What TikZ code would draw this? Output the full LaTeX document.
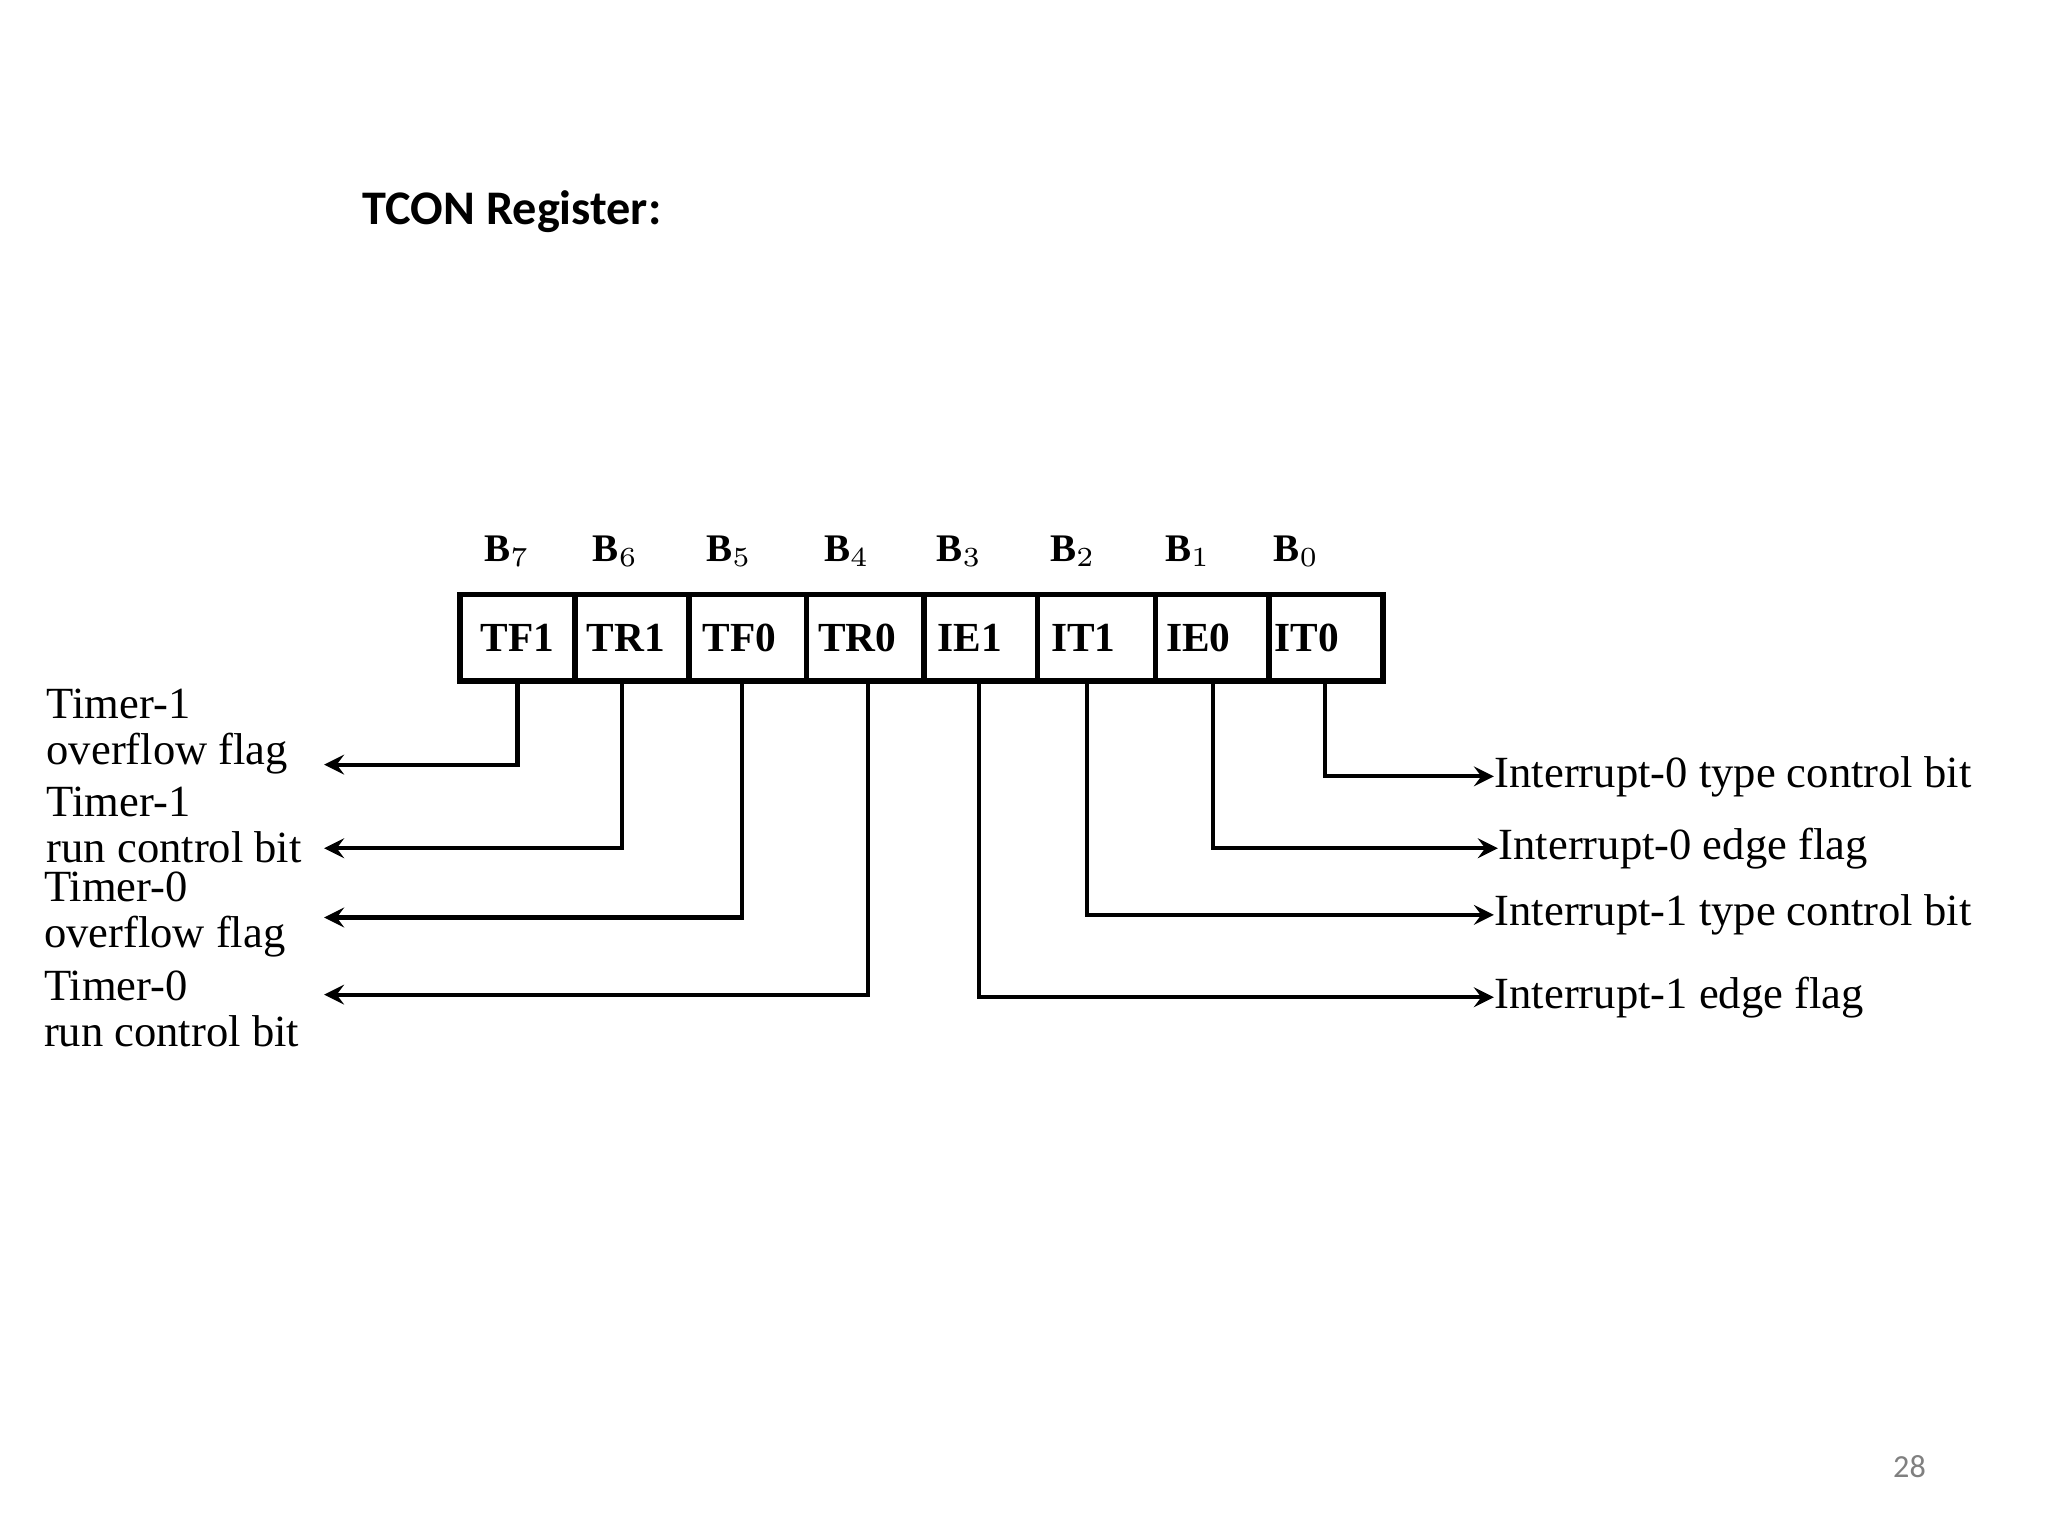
\documentclass[tikz,border=0pt]{standalone}
\usepackage{fontspec}
\setmainfont{Liberation Serif}
\newfontfamily\carl{Carlito}
\begin{document}
\begin{tikzpicture}[x=0.01cm,y=-0.01cm,
  lbl/.style={font=\fontsize{9.7}{10}\selectfont,align=left,inner sep=0pt},
  wire/.style={line width=0.9pt},
  arr/.style={wire,->,>=stealth}]
\useasboundingbox (0,0) rectangle (1567,1175);
\node[anchor=west,font=\carl\bfseries\fontsize{10.5}{12}\selectfont,inner sep=0pt] (title) at (277,162) {TCON Register:};
\node[font=\carl\fontsize{7}{8}\selectfont,text=gray,inner sep=0pt] (pg) at (1461,1122) {28};
\draw[line width=1.2pt] (352,455) rectangle (1058,521);
\foreach \x in {440,527,617,707,794,884,971}{\draw[line width=1.2pt] (\x,455)--(\x,521);}
\foreach \n/\t/\x/\b in {c7/TF1/396/7,c6/TR1/479/6,c5/TF0/566/5,c4/TR0/656/4,c3/IE1/742/3,c2/IT1/829/2,c1/IE0/917/1,c0/IT0/1000/0}{
  \node[font=\bfseries\fontsize{9}{10}\selectfont,inner sep=0pt] (\n) at (\x,488) {\t};
  \node[font=\bfseries\fontsize{8.5}{10}\selectfont,inner sep=0pt] (b\b) at (\x-8,422) {B$_{\b}$};
}
\coordinate (t7) at (396,521); \coordinate (t6) at (476,521); \coordinate (t5) at (568,521); \coordinate (t4) at (664,521);
\coordinate (t3) at (749,521); \coordinate (t2) at (832,521); \coordinate (t1) at (928,521); \coordinate (t0) at (1014,521);
\node[lbl,anchor=west] (l1) at (35,560) {Timer-1\\overflow flag};
\node[lbl,anchor=west] (l2) at (35,631) {Timer-1\\run control bit};
\node[lbl,anchor=west] (l3) at (33,700) {Timer-0\\overflow flag};
\node[lbl,anchor=west] (l4) at (33,772) {Timer-0\\run control bit};
\coordinate (a1) at (248,585); \coordinate (a2) at (248,649); \coordinate (a3) at (248,702); \coordinate (a4) at (248,761);
\draw[arr] (t7) |- (a1);
\draw[arr] (t6) |- (a2);
\draw[arr] (t5) |- (a3);
\draw[arr] (t4) |- (a4);
\node[lbl,anchor=west] (r0) at (1143,594) {Interrupt-0 type control bit};
\node[lbl,anchor=west] (r1) at (1146,649) {Interrupt-0 edge flag};
\node[lbl,anchor=west] (r2) at (1143,700) {Interrupt-1 type control bit};
\node[lbl,anchor=west] (r3) at (1143,763) {Interrupt-1 edge flag};
\draw[arr] (t0) |- (r0.west);
\draw[arr] (t1) |- (r1.west);
\draw[arr] (t2) |- (r2.west);
\draw[arr] (t3) |- (r3.west);
\end{tikzpicture}
\end{document}
